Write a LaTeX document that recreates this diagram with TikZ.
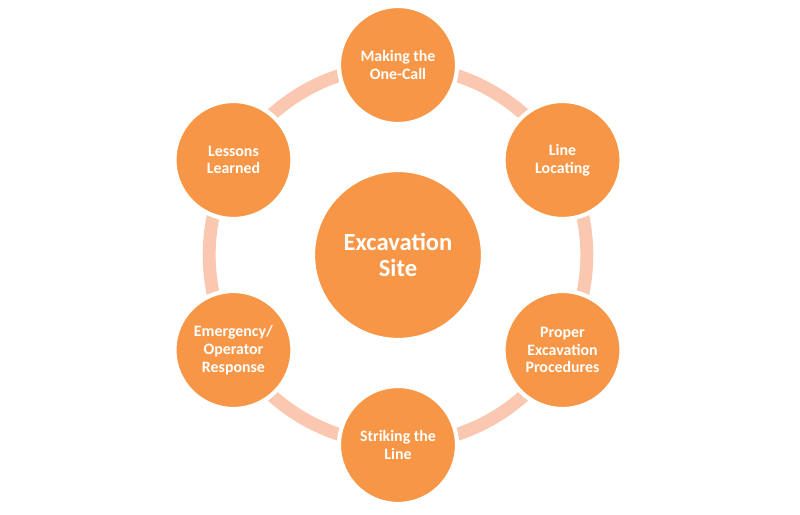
\documentclass[tikz,border=0pt]{standalone}
\usepackage{fontspec}
\setmainfont{Carlito}
\usetikzlibrary{shadows}
\definecolor{stageorange}{RGB}{247,150,70}
\definecolor{ringpeach}{RGB}{250,200,176}
\begin{document}
\begin{tikzpicture}[
        stage/.style={
            circle,
            draw=white,
            line width=3pt,
            fill=stageorange,
            text=white,
            align=center,
            minimum size=2.95cm,
            inner sep=0pt,
            font=\bfseries\fontsize{11.3}{12.6}\selectfont,
            drop shadow={opacity=0.25, shadow xshift=0.6pt, shadow yshift=-0.9pt}
        },
        hubstage/.style={
            stage,
            minimum size=4.25cm,
            font=\bfseries\fontsize{17.5}{19}\selectfont
        },
        ring/.style={draw=ringpeach, line width=9.2pt}
    ]
        \useasboundingbox (-9.95,-6.5) rectangle (10.05,6.375);

        \coordinate (middle) at (0,0);
        \draw[ring] (middle) circle[radius=4.72cm];

        \node[hubstage] (hub) at (middle) {Excavation\\Site};
        \node[stage] (call) at (90:4.75) {Making the\\One-Call};
        \node[stage] (locate) at (30:4.75) {Line\\Locating};
        \node[stage] (proper) at (-30:4.75) {Proper\\Excavation\\Procedures};
        \node[stage] (strike) at (-90:4.75) {Striking the\\Line};
        \node[stage] (respond) at (-150:4.75) {Emergency/\\Operator\\Response};
        \node[stage] (lessons) at (150:4.75) {Lessons\\Learned};

    \end{tikzpicture}
\end{document}
